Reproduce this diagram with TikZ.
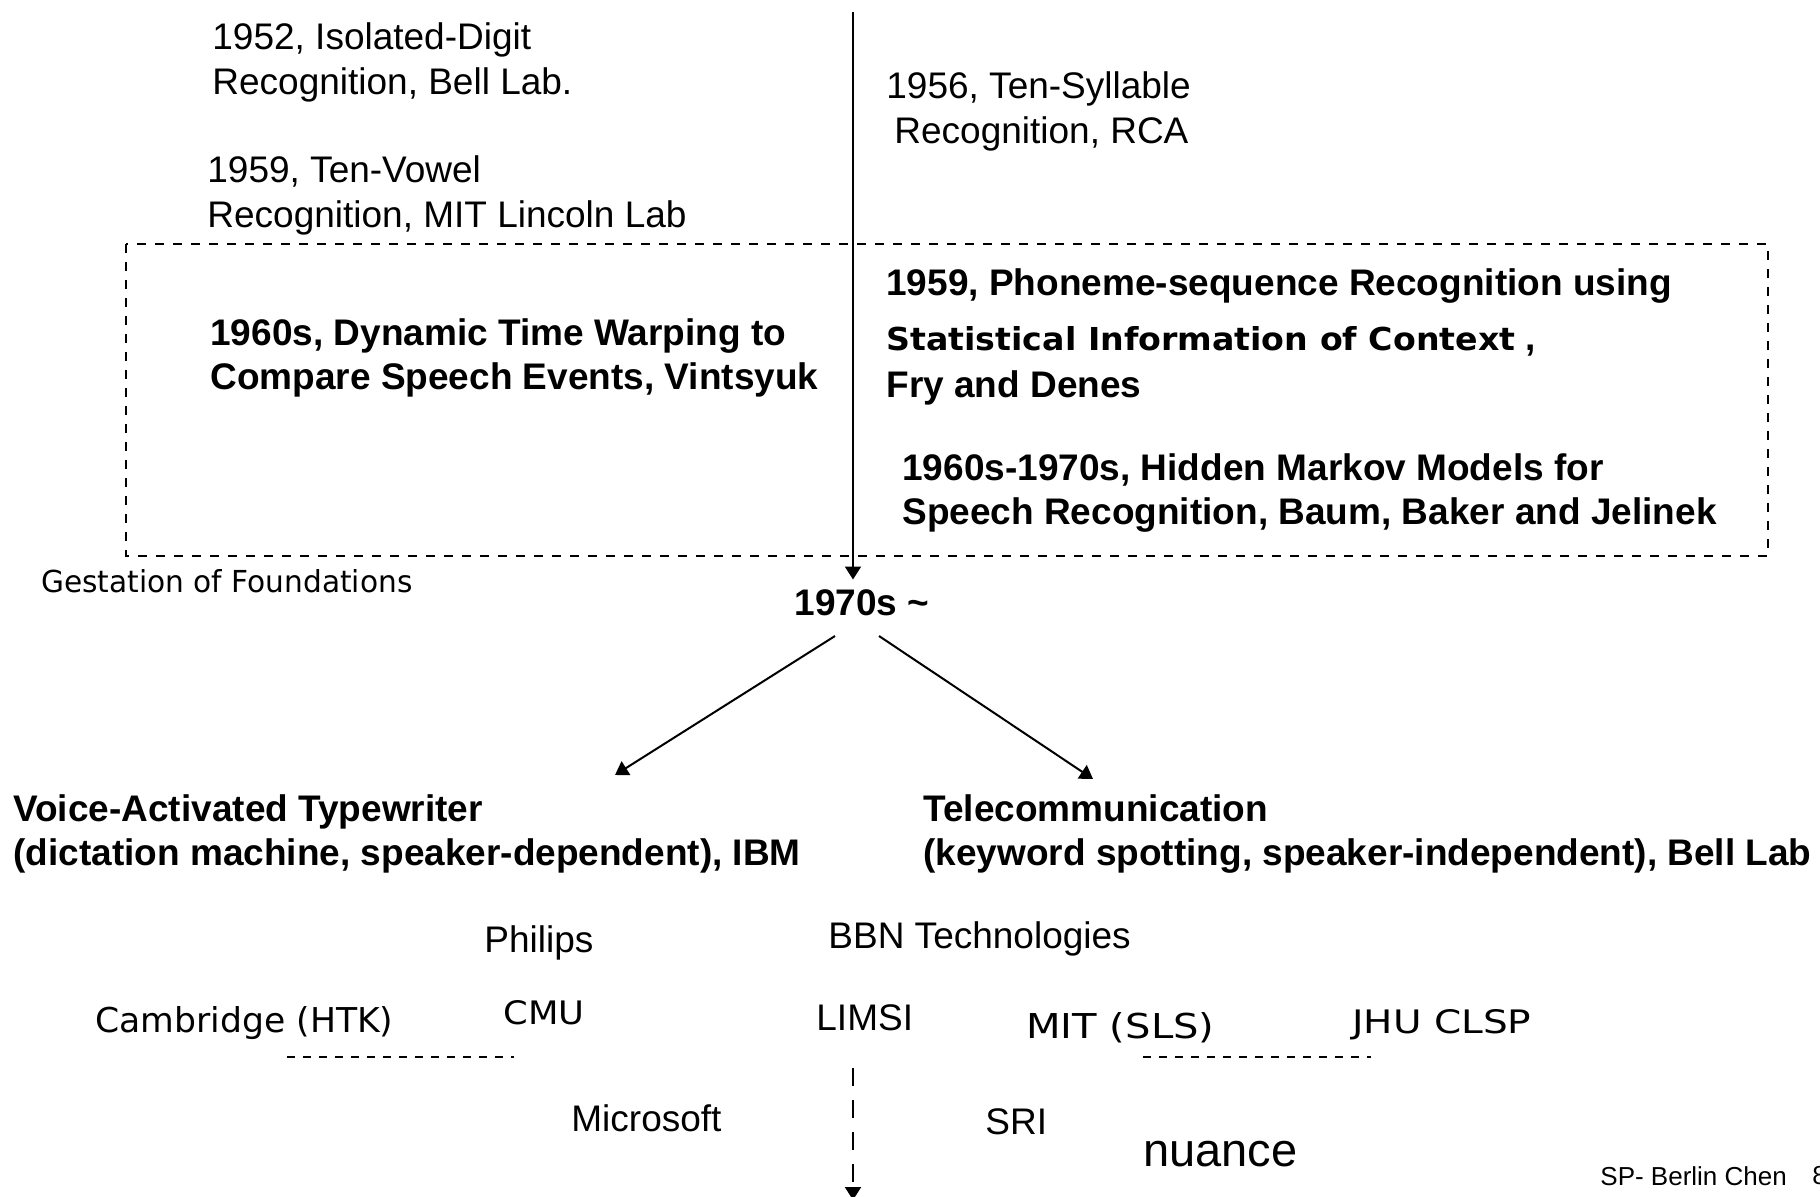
\documentclass[tikz,border=0pt]{standalone}
\usepackage{fontspec}
\setmainfont{Liberation Sans}
\newfontfamily\comic{DejaVu Sans}
\usetikzlibrary{arrows.meta}
\newcommand\cmc[3]{\resizebox{#1}{#2}{\comic #3}}
\tikzset{
 reg/.style={inner sep=0pt, anchor=west, align=left, font=\fontsize{18.5pt}{22.5pt}\selectfont},
 bld/.style={inner sep=0pt, anchor=west, align=left, font=\bfseries\fontsize{18.5pt}{22pt}\selectfont},
 cmcs/.style={inner sep=0pt, anchor=west},
 ln/.style={line width=1pt},
 tip/.style={-{Triangle[length=6.5pt,width=8pt]}},
 dbox/.style={dash pattern=on 4.5pt off 4.5pt, line width=0.8pt},
 sdash/.style={dash pattern=on 4pt off 4pt, line width=1pt},
 ddash/.style={dash pattern=on 9pt off 7pt, line width=1pt},
}
\begin{document}
\begin{tikzpicture}[x=0.5pt,y=-0.5pt]
\useasboundingbox (0,0) rectangle (1820,1196);
\draw[dbox] (126,244) rectangle (1768,556);

\node[reg] (t1952) at (212,62) {1952, Isolated-Digit\\Recognition, Bell Lab.};
\node[reg] (t1959) at (207,195) {1959, Ten-Vowel\\Recognition, MIT Lincoln Lab};
\node[reg] (t1956) at (886,111) {1956, Ten-Syllable\\\hspace{4pt}Recognition, RCA};
\node[bld] (dtw) at (210,358) {1960s, Dynamic Time Warping to\\Compare Speech Events, Vintsyuk};
\node[bld] (fry) at (886,337) {1959, Phoneme-sequence Recognition using\\[5.5pt]\cmc{314.5pt}{12pt}{\bfseries Statistical Information of Context}\ ,\\[1.5pt]Fry and Denes};
\node[bld] (hmm) at (902,493) {1960s-1970s, Hidden Markov Models for\\Speech Recognition, Baum, Baker and Jelinek};
\node[cmcs] (gest) at (41,581) {\cmc{185.5pt}{11.5pt}{Gestation of Foundations}};
\node[bld, anchor=center] (n1970) at (862,603) {1970s \textasciitilde};

\coordinate (top) at (853,12);
\draw[ln,tip,shorten >=5pt] (top) -- (top |- n1970.north);

\coordinate (a1) at (835,636);
\coordinate (a2) at (615,775);
\coordinate (b1) at (879,636);
\coordinate (b2) at (1093,779);
\draw[ln,tip] (a1) -- (a2);
\draw[ln,tip] (b1) -- (b2);

\node[bld] (voice) at (13,834) {Voice-Activated Typewriter\\(dictation machine, speaker-dependent), IBM};
\node[bld] (tele) at (923,834) {Telecommunication\\(keyword spotting, speaker-independent), Bell Lab};

\node[reg] (philips) at (484,943) {Philips};
\node[reg] (bbn) at (828,939) {BBN Technologies};
\node[cmcs] (cam) at (95,1023) {\cmc{149pt}{13pt}{Cambridge (HTK)}};
\node[cmcs] (cmu) at (503,1013) {\cmc{40.5pt}{12pt}{CMU}};
\node[reg] (limsi) at (816,1018) {LIMSI};
\node[cmcs] (mit) at (1026,1028) {\cmc{94pt}{13pt}{MIT (SLS)}};
\node[cmcs] (jhu) at (1352,1025) {\cmc{89.5pt}{12pt}{JHU CLSP}};
\draw[sdash] (287,1057) -- (514,1057);
\draw[sdash] (1143,1057) -- (1371,1057);

\node[reg] (ms) at (571,1118) {Microsoft};
\node[reg] (sri) at (985,1122) {SRI};
\node[reg, font=\fontsize{23.5pt}{28pt}\selectfont] (nuance) at (1143,1154) {nuance};
\coordinate (d1) at (853,1068);
\coordinate (d2) at (853,1200);
\draw[ddash,tip] (d1) -- (d2);

\node[reg, font=\fontsize{13pt}{15pt}\selectfont] (sp) at (1600,1176) {SP- Berlin Chen};
\node[reg, font=\fontsize{13pt}{15pt}\selectfont] (pg) at (1812,1176) {8};
\end{tikzpicture}
\end{document}
